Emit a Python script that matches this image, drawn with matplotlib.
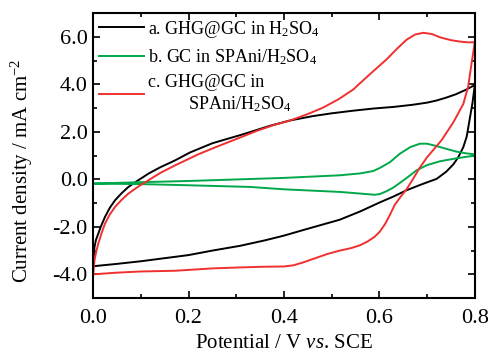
import matplotlib
matplotlib.use("Agg")
import matplotlib.pyplot as plt
from matplotlib.ticker import MultipleLocator

plt.rcParams["font.family"] = ["Liberation Serif", "DejaVu Serif"]
plt.rcParams["mathtext.fontset"] = "custom"
plt.rcParams["mathtext.rm"] = "Liberation Serif"
plt.rcParams["mathtext.it"] = "Liberation Serif:italic"

# a. GHG@GC in H2SO4 (upper / lower branch of the CV loop)
a_up_v = [0.000, 0.003, 0.006, 0.011, 0.016, 0.025, 0.035, 0.046, 0.060, 0.074, 0.090,
          0.116, 0.140, 0.172, 0.203, 0.250, 0.308, 0.329, 0.370, 0.413, 0.460,
          0.500, 0.545, 0.587, 0.630, 0.670, 0.700, 0.720, 0.740, 0.760, 0.780, 0.800]
a_up_j = [-3.60, -2.84, -2.55, -2.28, -2.00, -1.58, -1.20, -0.88, -0.58, -0.32, -0.10,
          0.24, 0.50, 0.80, 1.13, 1.52, 1.86, 1.99, 2.25, 2.48, 2.66,
          2.78, 2.89, 2.98, 3.05, 3.14, 3.23, 3.32, 3.44, 3.58, 3.76, 3.97]
a_lo_v = [0.000, 0.050, 0.100, 0.150, 0.200, 0.250, 0.308, 0.360, 0.400, 0.450, 0.517,
          0.560, 0.601, 0.630, 0.657, 0.690, 0.720, 0.740, 0.755, 0.765, 0.776, 0.783,
          0.789, 0.795, 0.800]
a_lo_j = [-3.66, -3.56, -3.45, -3.32, -3.19, -3.00, -2.80, -2.57, -2.37, -2.08, -1.70,
          -1.35, -0.97, -0.72, -0.46, -0.20, 0.02, 0.32, 0.63, 0.92, 1.36, 1.80,
          2.50, 3.20, 3.97]

# b. GC in SPAni/H2SO4
b_up_v = [0.000, 0.100, 0.200, 0.308, 0.400, 0.517, 0.560, 0.587, 0.601, 0.622, 0.643,
          0.665, 0.685, 0.700, 0.720, 0.741, 0.761, 0.780, 0.800]
b_up_j = [-0.18, -0.12, -0.07, 0.00, 0.06, 0.17, 0.25, 0.35, 0.48, 0.72, 1.08,
          1.36, 1.50, 1.50, 1.40, 1.28, 1.17, 1.10, 1.05]
b_lo_v = [0.000, 0.100, 0.200, 0.329, 0.400, 0.517, 0.560, 0.590, 0.601, 0.615, 0.629,
          0.643, 0.660, 0.678, 0.700, 0.727, 0.760, 0.800]
b_lo_j = [-0.18, -0.20, -0.25, -0.32, -0.42, -0.53, -0.60, -0.65, -0.62, -0.50, -0.35,
          -0.15, 0.10, 0.38, 0.60, 0.76, 0.88, 1.00]

# c. GHG@GC in SPAni/H2SO4
c_up_v = [0.000, 0.003, 0.007, 0.011, 0.018, 0.025, 0.035, 0.046, 0.060, 0.074, 0.095,
          0.116, 0.140, 0.172, 0.220, 0.260, 0.293, 0.343, 0.378, 0.413, 0.450, 0.482,
          0.515, 0.545, 0.565, 0.587, 0.615, 0.636, 0.657, 0.675, 0.692, 0.710, 0.727,
          0.750, 0.769, 0.785, 0.800]
c_up_j = [-4.00, -3.40, -3.00, -2.70, -2.25, -1.86, -1.48, -1.16, -0.86, -0.60, -0.30,
          -0.04, 0.26, 0.59, 1.05, 1.38, 1.64, 2.04, 2.28, 2.48, 2.75, 3.02,
          3.38, 3.78, 4.15, 4.55, 5.05, 5.48, 5.88, 6.10, 6.17, 6.12, 5.98,
          5.86, 5.80, 5.77, 5.77]
c_lo_v = [0.000, 0.050, 0.100, 0.172, 0.250, 0.308, 0.360, 0.400, 0.420, 0.440, 0.460,
          0.490, 0.517, 0.540, 0.559, 0.575, 0.590, 0.601, 0.612, 0.622, 0.632, 0.645,
          0.657, 0.670, 0.685, 0.700, 0.730, 0.755, 0.776, 0.786, 0.793, 0.799, 0.800]
c_lo_j = [-4.00, -3.93, -3.88, -3.85, -3.75, -3.71, -3.68, -3.67, -3.62, -3.50, -3.36,
          -3.15, -3.00, -2.90, -2.78, -2.62, -2.42, -2.20, -1.88, -1.50, -1.08, -0.72,
          -0.42, 0.00, 0.50, 0.93, 1.64, 2.40, 3.18, 3.90, 4.86, 5.63, 5.77]

labels = ["a. GHG@GC in H$_2$SO$_4$",
          "b. GC in SPAni/H$_2$SO$_4$",
          "c. GHG@GC in\n         SPAni/H$_2$SO$_4$"]
colors = ["black", "#00a84a", "#f03030"]

fig = plt.figure(figsize=(4.9, 3.54), dpi=100)
ax = fig.add_axes([0.190, 0.158, 0.779, 0.805])

curves = [(a_lo_v, a_lo_j, a_up_v, a_up_j),
          (b_lo_v, b_lo_j, b_up_v, b_up_j),
          (c_lo_v, c_lo_j, c_up_v, c_up_j)]
for (lv, lj, uv, uj), lab, col in zip(curves, labels, colors):
    # closed loop: lower branch forward, upper branch back
    ax.plot(list(lv) + list(uv[::-1]), list(lj) + list(uj[::-1]),
            color=col, lw=1.4, label=lab)

ax.set_xlim(0, 0.8)
ax.set_ylim(-5, 7)
ax.xaxis.set_major_locator(MultipleLocator(0.2))
ax.xaxis.set_minor_locator(MultipleLocator(0.1))
ax.yaxis.set_major_locator(MultipleLocator(2))
ax.yaxis.set_minor_locator(MultipleLocator(1))
ax.xaxis.set_major_formatter(plt.FuncFormatter(lambda x, p: f"{x:.1f}"))
ax.yaxis.set_major_formatter(plt.FuncFormatter(lambda y, p: f"{y:.1f}"))
ax.tick_params(which="both", direction="in", top=True, right=True, width=1.2,
               labelsize=16)
ax.tick_params(which="major", length=5)
ax.tick_params(which="minor", length=3)
ax.tick_params(axis="x", pad=8)
ax.tick_params(axis="y", pad=4)
for s in ax.spines.values():
    s.set_linewidth(1.5)

ax.set_xlabel("Potential / V $\\mathit{vs}$. SCE", fontsize=15, labelpad=4)
ax.set_ylabel("Current density / mA cm$^{-2}$", fontsize=15)
ax.yaxis.set_label_coords(-0.152, 0.445)

ax.legend(loc="upper left", frameon=False, fontsize=13, handlelength=2.5,
          handletextpad=0.25, labelspacing=0.42, borderaxespad=0.0,
          borderpad=0.3)

fig.savefig("out.png", dpi=100)
